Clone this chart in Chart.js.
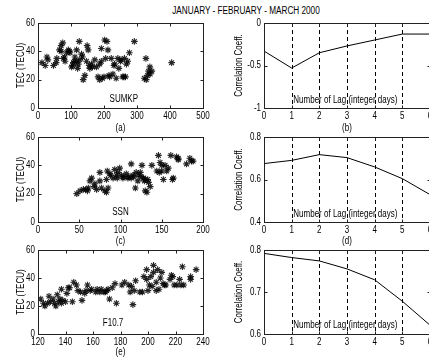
<!DOCTYPE html>
<html><head><meta charset="utf-8">
<script src="https://cdn.jsdelivr.net/npm/chart.js@4.4.0/dist/chart.umd.min.js"></script>
<style>
html,body{margin:0;padding:0;background:#fff;overflow:hidden;width:429px;height:364px;}
#wrap{position:relative;width:429px;height:364px;overflow:hidden;background:#fff;}
canvas{position:absolute;}
#title{position:absolute;left:146px;width:200px;top:5px;text-align:center;font-size:10px;line-height:12px;color:#000;white-space:nowrap;
 font-family:'Liberation Sans',Arial,sans-serif;transform:scaleX(0.82);transform-origin:50% 50%;}
</style></head><body>
<div id="wrap"><div id="title">JANUARY - FEBRUARY - MARCH 2000</div></div>
<script>
// ---------- data ----------
const sumkpX = [12,22,27,30,47,55,57,65,70,75,77,87,92,97,102,107,112,117,122,125,127,132,137,142,147,149,152,157,162,172,177,182,187,187,192,192,202,209,205,212,217,222,227,232,237,242,245,252,257,262,265,272,277,292,322,327,332,335,339,345,405,
  70,80,82,95,105,110,118,120,135,155,165,195,200,215,230,250,260,268,340,328];
const sumkpY = [32,30,36,34,30,32,35,41,44,46,35,39,41,39,29,32,36,41,31,47,34,38,20,23,33,44,41,28,31,34,29,22,20,31,33,42,48,47,35,41,22,35,24,31,21,35,28,34,22,35,22,33,39,47,21,35,23,26,29,26,32,
  40,36,33,40,30,33,33,28,36,30,29,21,22,23,30,33,22,31,24,20];

const ssnX = [47,51,55,58,61,63,65,69,71,75,75,77,81,83,83,84,85,87,91,93,95,97,99,101,103,107,109,113,115,113,118,119,121,124,126,128,130,130,132,134,136,138,144,146,148,150,152,154,156,158,161,164,168,170,180,184,188,
  60,68,88,96,104,110,116,122,125,129,133,147,150,163,170,186];
const ssnY = [20,22,23,23,24,29,31,27,23,35,29,24,22,21,30,36,24,34,31,37,33,35,38,33,31,34,31,31,33,41,24,35,29,35,40,31,30,22,21,28,25,40,36,47,42,36,30,40,36,38,47,31,46,44,41,45,43,
  22,25,33,31,32,32,32,33,32,29,30,35,40,30,45,43];

const f107X = [122,124,125,128,129,131,133,134,135,136,137,140,137,141,142,145,146,148,149,151,152,154,155,156,159,163,165,166,169,170,171,172,176,177,181,183,186,188,189,190,191,194,197,199,199,200,201,202,204,204,206,206,207,209,210,211,213,216,217,218,221,223,224,225,231,231,235,
  127,132,138,143,158,162,168,174,187,196,203,208,212,219,226];
const f107Y = [25,22,20,27,23,25,20,28,23,25,22,23,32,29,33,23,37,35,31,30,24,29,31,35,32,32,30,32,30,31,32,25,36,22,35,37,35,34,21,31,38,30,41,46,39,31,35,41,44,49,37,31,46,40,44,36,35,39,42,41,35,39,35,48,39,41,46,
  22,22,24,33,31,30,30,33,30,30,34,32,35,35,35];

const lags = [0,1,2,3,4,5,6];
const corrKp   = [-0.33,-0.53,-0.35,-0.27,-0.20,-0.13,-0.13];
const corrSsn  = [0.675,0.690,0.717,0.703,0.659,0.604,0.529];
const corrF107 = [0.792,0.782,0.774,0.755,0.729,0.678,0.621];

const panelLabels = ['(a)','(b)','(c)','(d)','(e)',''];
const innerNames = ['SUMKP','SSN','F10.7'];
const lagText = 'Number of Lag (integer days)';

// ---------- drawing ----------
const FONT = "'Liberation Sans',Arial,sans-serif";
const SX = 0.8; // horizontal condensing of text, like the reference's narrow font
const wrap = document.getElementById('wrap');
const fmt = v => String(Number(Number(v).toFixed(3)));

const matBox = {
  id: 'matBox',
  beforeDatasetsDraw(chart, args, o) {
    if (!o.dashed) return;
    const {ctx, chartArea: a} = chart;
    const xs = chart.scales.x;
    ctx.save();
    ctx.strokeStyle = '#000'; ctx.lineWidth = 1; ctx.setLineDash([4,3]);
    xs.ticks.forEach(t => {
      if (t.value <= xs.min || t.value >= xs.max) return;
      const px = Math.round(xs.getPixelForValue(t.value)) + 0.5;
      ctx.beginPath(); ctx.moveTo(px, a.top); ctx.lineTo(px, a.bottom); ctx.stroke();
    });
    ctx.restore();
  },
  afterDatasetsDraw(chart, args, o) {
    const {ctx, chartArea: a} = chart;
    const xs = chart.scales.x, ys = chart.scales.y;
    ctx.save();
    ctx.strokeStyle = '#222'; ctx.lineWidth = 1; ctx.setLineDash([]);
    const L = Math.round(a.left)+0.5, R = Math.round(a.right)+0.5, T = Math.round(a.top)+0.5, B = Math.round(a.bottom)+0.5;
    ctx.strokeRect(L, T, R-L, B-T);
    const tl = 3;
    ctx.beginPath();
    xs.ticks.forEach(t => {
      const px = Math.round(xs.getPixelForValue(t.value)) + 0.5;
      ctx.moveTo(px, B); ctx.lineTo(px, B - tl);
      ctx.moveTo(px, T); ctx.lineTo(px, T + tl);
    });
    ys.ticks.forEach(t => {
      const py = Math.round(ys.getPixelForValue(t.value)) + 0.5;
      ctx.moveTo(L, py); ctx.lineTo(L + tl, py);
      ctx.moveTo(R, py); ctx.lineTo(R - tl, py);
    });
    ctx.stroke();
    if (o.text) {
      ctx.fillStyle = '#000';
      ctx.font = '10px ' + FONT;
      ctx.textAlign = 'center'; ctx.textBaseline = 'middle';
      ctx.fillText(o.text, a.left + o.fx * (a.right - a.left), a.bottom - o.dy);
    }
    ctx.restore();
  }
};
Chart.register(matBox);

function panel(box, area, cfg) {
  const c = document.createElement('canvas');
  c.width = box[2]; c.height = box[3];
  c.style.left = box[0] + 'px'; c.style.top = box[1] + 'px';
  c.style.width = box[2] + 'px'; c.style.height = box[3] + 'px';
  wrap.appendChild(c);
  const cx = c.getContext('2d');
  const origFill = cx.fillText.bind(cx);
  cx.fillText = function (t, x, y) {
    this.save(); this.translate(x, y); this.scale(SX, 1); origFill(t, 0, 0); this.restore();
  };
  const fnt = {family: FONT, size: 10};
  const ds = cfg.line ? {
      data: cfg.xs.map((x, i) => ({x, y: cfg.ys[i]})),
      showLine: true, pointRadius: 0, borderColor: '#000', borderWidth: 1, tension: 0
    } : {
      data: cfg.xs.map((x, i) => ({x, y: cfg.ys[i]})),
      pointStyle: 'star', pointRadius: 3.3, borderColor: 'rgba(0,0,0,0.85)', borderWidth: 1.1,
      backgroundColor: '#000'
    };
  new Chart(c, {
    type: 'scatter',
    data: {datasets: [ds]},
    options: {
      responsive: false, animation: false, devicePixelRatio: 1,
      layout: {padding: {left: 0, top: area[1] - box[1], right: box[0] + box[2] - area[2], bottom: 0}},
      plugins: {legend: {display: false}, tooltip: {enabled: false},
        matBox: {dashed: !!cfg.line, text: cfg.text, fx: cfg.fx, dy: cfg.dy}},
      scales: {
        x: {type: 'linear', min: cfg.xmin, max: cfg.xmax, position: 'bottom',
          grid: {display: false, drawTicks: false}, border: {display: false},
          ticks: {stepSize: cfg.xstep, font: fnt, color: '#000', padding: 2, maxRotation: 0, autoSkip: false, callback: fmt},
          title: {display: !!cfg.xtitle, text: cfg.xtitle, font: fnt, color: '#000', padding: {top: 0, bottom: cfg.tpad}},
          afterFit: s => { s.height = box[1] + box[3] - area[3]; }
        },
        y: {type: 'linear', min: cfg.ymin, max: cfg.ymax, position: 'left',
          grid: {display: false, drawTicks: false}, border: {display: false},
          ticks: {stepSize: cfg.ystep, font: fnt, color: '#000', padding: 3, autoSkip: false, callback: fmt},
          title: {display: true, text: cfg.ytitle, font: fnt, color: '#000', padding: {top: cfg.ytpad, bottom: 0}},
          afterFit: s => { s.width = area[0] - box[0]; }
        }
      }
    }
  });
}

// left column scatter panels
panel([0, 14, 215, 124], [38, 23, 203, 108], {xs: sumkpX, ys: sumkpY, xmin: 0, xmax: 500, xstep: 100, ymin: 0, ymax: 60, ystep: 20,
  xtitle: panelLabels[0], tpad: 4, ytitle: 'TEC (TECU)', ytpad: 15, text: innerNames[0], fx: 0.52, dy: 9});
panel([0, 128, 215, 123], [38, 136, 203, 222], {xs: ssnX, ys: ssnY, xmin: 0, xmax: 200, xstep: 50, ymin: 0, ymax: 60, ystep: 20,
  xtitle: panelLabels[2], tpad: 4, ytitle: 'TEC (TECU)', ytpad: 15, text: innerNames[1], fx: 0.5, dy: 10});
panel([0, 241, 215, 123], [38, 249, 203, 334], {xs: f107X, ys: f107Y, xmin: 120, xmax: 240, xstep: 20, ymin: 0, ymax: 60, ystep: 20,
  xtitle: panelLabels[4], tpad: 6, ytitle: 'TEC (TECU)', ytpad: 15, text: innerNames[2], fx: 0.455, dy: 11});

// right column correlation panels
panel([215, 14, 225, 124], [264, 23, 430, 108], {line: true, xs: lags, ys: corrKp, xmin: 0, xmax: 6, xstep: 1, ymin: -1, ymax: 0, ystep: 0.5,
  xtitle: panelLabels[1], tpad: 4, ytitle: 'Correlation Coeff.', ytpad: 18, text: lagText, fx: 0.49, dy: 8});
panel([215, 128, 225, 123], [264, 136, 430, 222], {line: true, xs: lags, ys: corrSsn, xmin: 0, xmax: 6, xstep: 1, ymin: 0.4, ymax: 0.8, ystep: 0.2,
  xtitle: panelLabels[3], tpad: 4, ytitle: 'Correlation Coeff.', ytpad: 18, text: lagText, fx: 0.49, dy: 8});
panel([215, 241, 225, 123], [264, 249, 430, 334], {line: true, xs: lags, ys: corrF107, xmin: 0, xmax: 6, xstep: 1, ymin: 0.6, ymax: 0.8, ystep: 0.1,
  xtitle: panelLabels[5], tpad: 6, ytitle: 'Correlation Coeff.', ytpad: 18, text: lagText, fx: 0.49, dy: 9});
</script>
</body></html>
